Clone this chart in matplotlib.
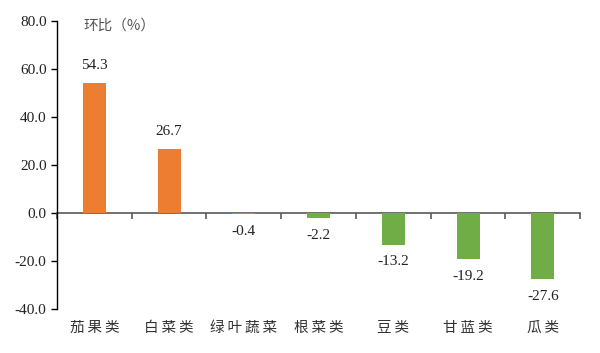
import matplotlib.pyplot as plt
import numpy as np

categories = ['茄果类', '白菜类', '绿叶蔬菜', '根菜类', '豆类', '甘蓝类', '瓜类']
values = [54.3, 26.7, -0.4, -2.2, -13.2, -19.2, -27.6]
yticks = [-40, -20, 0, 20, 40, 60, 80]

cjk = ['Noto Sans CJK SC', 'DejaVu Sans']
num_font = 'Liberation Serif'

fig = plt.figure(figsize=(6, 3.53), dpi=100)
ax = fig.add_axes([0.095, 0.1246, 0.872, 0.8159])

x = np.arange(len(categories))
colors = ['#ED7D31' if v > 0 else '#70AD47' for v in values]
ax.bar(x, values, width=0.31, color=colors, zorder=3)

for xi, v in zip(x, values):
    if v > 0:
        ax.text(xi, v + 4.5, f'{v:.1f}', ha='center', va='bottom',
                fontsize=11, family=num_font, color='#222222')
    else:
        ax.text(xi, v - 4.5, f'{v:.1f}', ha='center', va='top',
                fontsize=11, family=num_font, color='#222222')

ax.set_xlim(-0.5, len(categories) - 0.5)
ax.set_ylim(-40, 80)
ax.set_yticks(yticks)
ax.set_yticklabels([f'{t:.1f}' for t in yticks], family=num_font, fontsize=11,
                   color='#222222')

# x axis drawn at zero with ticks at category boundaries
ax.spines['top'].set_visible(False)
ax.spines['right'].set_visible(False)
ax.spines['bottom'].set_position(('data', 0))
ax.spines['bottom'].set_color('#595959')
ax.spines['bottom'].set_linewidth(1.2)
ax.spines['bottom'].set_zorder(2)
ax.spines['left'].set_linewidth(1.0)
ax.set_xticks(np.arange(len(categories) + 1) - 0.5)
ax.set_xticklabels([])
ax.tick_params(axis='x', direction='out', length=4, color='#595959', width=1.2)
ax.tick_params(axis='y', direction='out', length=4, width=1.0)

for xi, c in zip(x, categories):
    ax.text(xi, -48, '\u2009'.join(c), ha='center', va='center',
            fontsize=10.5, family=cjk, color='#333333')

ax.text(0.05, 0.985, '环比（%）', transform=ax.transAxes, ha='left', va='center',
        fontsize=10.5, family=cjk, color='#555555')

fig.savefig('out.png', dpi=100)
